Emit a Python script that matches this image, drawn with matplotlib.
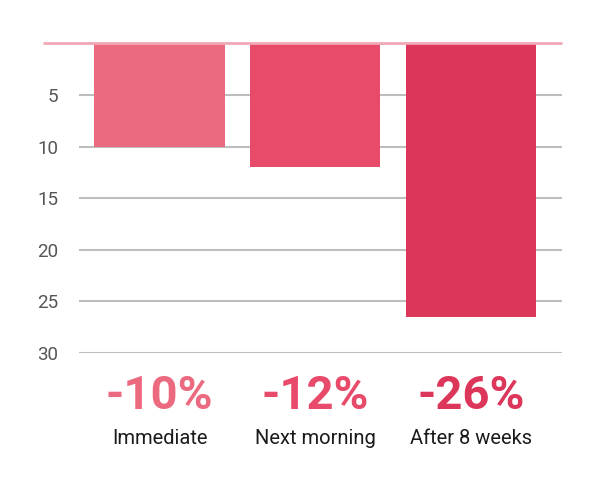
import matplotlib.pyplot as plt

categories = ['Immediate', 'Next morning', 'After 8 weeks']
values = [10, 12, 26.5]
pct_labels = ['-10%', '-12%', '-26%']
colors = ['#EC6A80', '#E84A6A', '#DC365A']
yticks = [5, 10, 15, 20, 25, 30]

plt.rcParams['font.family'] = ['Roboto', 'DejaVu Sans']

fig = plt.figure(figsize=(5.98, 4.91), dpi=100)
ax = fig.add_axes([0.1321, 0.2811, 0.8077, 0.6307])

x = range(len(categories))
ax.bar(x, values, width=0.835, color=colors, zorder=3)

ax.set_ylim(30, 0)
ax.set_xlim(-0.517, 2.584)
ax.set_yticks(yticks)
ax.set_xticks([])
ax.tick_params(axis='y', length=0, pad=15, labelsize=13.5, labelcolor='#555555')
for t in yticks:
    ax.axhline(t, color='#BDBDBD', lw=1.5, zorder=1)
# pink baseline at zero, reaching left past the grid
ax.hlines(0, -0.748, 2.584, color='#F2A7B5', lw=2, zorder=4, clip_on=False)

for s in ax.spines.values():
    s.set_visible(False)

for i, (p, c, cat) in enumerate(zip(pct_labels, colors, categories)):
    ax.text(i, 34.2, p, ha='center', va='center', fontsize=34, fontweight='bold',
            color=c, clip_on=False)
    ax.text(i, 38.3, cat, ha='center', va='center', fontsize=14.5, color='#1A1A1A',
            clip_on=False)

fig.savefig('out.png', dpi=100)
